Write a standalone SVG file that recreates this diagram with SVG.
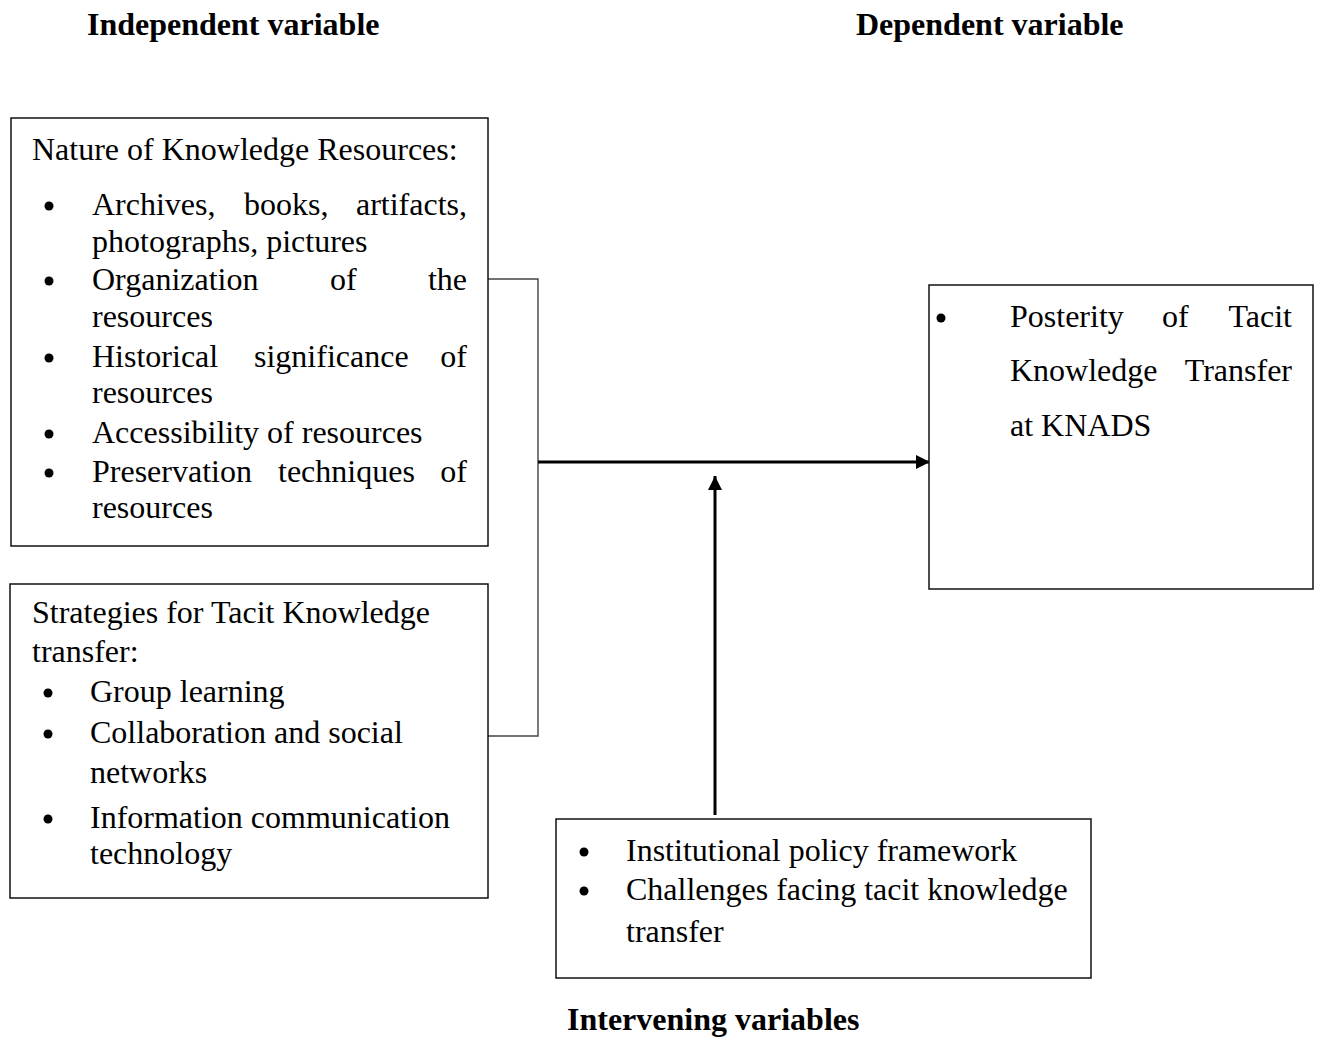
<svg xmlns="http://www.w3.org/2000/svg" width="1321" height="1037" viewBox="0 0 1321 1037">
<style>
.t{font-family:"Liberation Serif","Times New Roman",serif;font-size:32px;fill:#000}
.b{font-weight:bold}
.box{fill:#fff;stroke:#111;stroke-width:1.5}
.br{fill:none;stroke:#444;stroke-width:1.4}
.ar{fill:none;stroke:#000;stroke-width:3}
.e{text-anchor:end}
</style>
<defs>
<marker id="ah" markerWidth="16" markerHeight="16" refX="14" refY="7" orient="auto" markerUnits="userSpaceOnUse">
<path d="M0,0 L14,7 L0,14 Z" fill="#000"/>
</marker>
</defs>
<rect width="1321" height="1037" fill="#fff"/>

<text class="t b" x="87" y="35">Independent variable</text>
<text class="t b" x="856" y="35">Dependent variable</text>
<text class="t b" x="567" y="1030">Intervening variables</text>

<g id="connectors">
<polyline class="br" points="488,279 538,279 538,736 488,736"/>
<line class="ar" x1="538" y1="462" x2="930" y2="462" marker-end="url(#ah)"/>
<line class="ar" x1="715" y1="815" x2="715" y2="476" marker-end="url(#ah)"/>
</g>

<g id="nature">
<rect class="box" x="11" y="118" width="477" height="428"/>
<text class="t" x="32" y="160">Nature of Knowledge Resources:</text>
<circle cx="49" cy="206" r="4.5"/>
<text class="t" x="92" y="215">Archives,</text>
<text class="t" x="244" y="215">books,</text>
<text class="t e" x="467" y="215">artifacts,</text>
<text class="t" x="92" y="252">photographs, pictures</text>
<circle cx="49" cy="281" r="4.5"/>
<text class="t" x="92" y="290">Organization</text>
<text class="t" x="330" y="290">of</text>
<text class="t e" x="467" y="290">the</text>
<text class="t" x="92" y="327">resources</text>
<circle cx="49" cy="358" r="4.5"/>
<text class="t" x="92" y="367">Historical</text>
<text class="t" x="254" y="367">significance</text>
<text class="t e" x="467" y="367">of</text>
<text class="t" x="92" y="403">resources</text>
<circle cx="49" cy="434" r="4.5"/>
<text class="t" x="92" y="443">Accessibility of resources</text>
<circle cx="49" cy="473" r="4.5"/>
<text class="t" x="92" y="482">Preservation</text>
<text class="t" x="278" y="482">techniques</text>
<text class="t e" x="467" y="482">of</text>
<text class="t" x="92" y="518">resources</text>
</g>

<g id="strategies">
<rect class="box" x="10" y="584" width="478" height="314"/>
<text class="t" x="32" y="623">Strategies for Tacit Knowledge</text>
<text class="t" x="32" y="662">transfer:</text>
<circle cx="48" cy="693" r="4.5"/>
<text class="t" x="90" y="702">Group learning</text>
<circle cx="48" cy="734" r="4.5"/>
<text class="t" x="90" y="743">Collaboration and social</text>
<text class="t" x="90" y="783">networks</text>
<circle cx="48" cy="819" r="4.5"/>
<text class="t" x="90" y="828">Information communication</text>
<text class="t" x="90" y="864">technology</text>
</g>

<g id="posterity">
<rect class="box" x="929" y="285" width="384" height="304"/>
<circle cx="941" cy="318" r="4.5"/>
<text class="t" x="1010" y="327">Posterity</text>
<text class="t" x="1162" y="327">of</text>
<text class="t e" x="1292" y="327">Tacit</text>
<text class="t" x="1010" y="381">Knowledge</text>
<text class="t e" x="1292" y="381">Transfer</text>
<text class="t" x="1010" y="436">at KNADS</text>
</g>

<g id="intervening">
<rect class="box" x="556" y="819" width="535" height="159"/>
<circle cx="584" cy="852" r="4.5"/>
<text class="t" x="626" y="861">Institutional policy framework</text>
<circle cx="584" cy="891" r="4.5"/>
<text class="t" x="626" y="900">Challenges facing tacit knowledge</text>
<text class="t" x="626" y="942">transfer</text>
</g>
</svg>
